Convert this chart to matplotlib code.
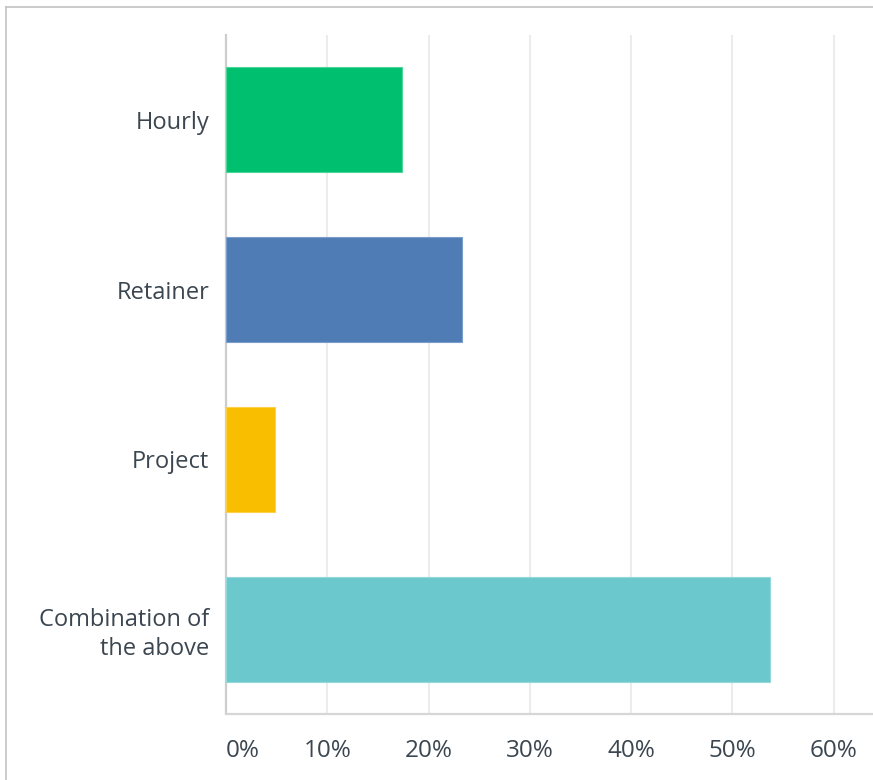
import matplotlib
matplotlib.use("Agg")
import matplotlib.pyplot as plt
from matplotlib.lines import Line2D

# Survey response shares by billing model
categories = ["Hourly", "Retainer", "Project", "Combination of\nthe above"]
shares = [17.4, 23.3, 4.8, 53.7]
bar_colors = ["#00BF6F", "#507CB6", "#F9BE00", "#6BC8CD"]
edge_colors = ["#4fd497", "#7b9dca", "#fbd24c", "#95d8dc"]
tick_values = [0, 10, 20, 30, 40, 50, 60]
tick_labels = ["0%", "10%", "20%", "30%", "40%", "50%", "60%"]

W, H = 873, 780
fig = plt.figure(figsize=(W / 100, H / 100), dpi=100)
fig.patch.set_facecolor("white")

# thin frame along top and left edges
frame_col = "#c2c2c2"
fig.add_artist(Line2D([6 / W, 1.0], [1 - 7 / H, 1 - 7 / H], color=frame_col, lw=1.2,
                      transform=fig.transFigure))
fig.add_artist(Line2D([6 / W, 6 / W], [1 - 7 / H, 0.0], color=frame_col, lw=1.2,
                      transform=fig.transFigure))

left, right, top, bottom = 226, 873, 35, 714
ax = fig.add_axes([left / W, 1 - bottom / H, (right - left) / W, (bottom - top) / H])

px_per_pct = (833.5 - 226) / 60
ax.set_xlim(0, (right - left) / px_per_pct)
ax.set_ylim(len(categories) - 0.5, -0.5)

ypos = list(range(len(categories)))
ax.barh(ypos, shares, height=0.62, color=bar_colors, edgecolor=edge_colors,
        linewidth=0.8, zorder=3)

ax.set_xticks(tick_values)
ax.set_xticklabels(tick_labels)
ax.set_yticks(ypos)
ax.set_yticklabels(categories)

text_col = "#3b4650"
font = "Open Sans"
for lbl in ax.get_xticklabels():
    lbl.set_fontfamily(font)
    lbl.set_fontsize(17.5)
    lbl.set_color(text_col)
ax.get_xticklabels()[0].set_horizontalalignment("left")
for lbl in ax.get_yticklabels():
    lbl.set_fontfamily(font)
    lbl.set_fontsize(17)
    lbl.set_color(text_col)
    lbl.set_linespacing(1.25)

ax.tick_params(axis="x", length=0, pad=18)
ax.tick_params(axis="y", length=0, pad=12)

ax.grid(axis="x", color="#ececec", lw=1.5, zorder=0)
ax.set_axisbelow(True)

for side in ("top", "right"):
    ax.spines[side].set_visible(False)
ax.spines["left"].set_color("#cdcdcd")
ax.spines["left"].set_linewidth(1.6)
ax.spines["bottom"].set_color("#d6d6d6")
ax.spines["bottom"].set_linewidth(1.6)

fig.savefig("out.png", dpi=100, facecolor="white")
